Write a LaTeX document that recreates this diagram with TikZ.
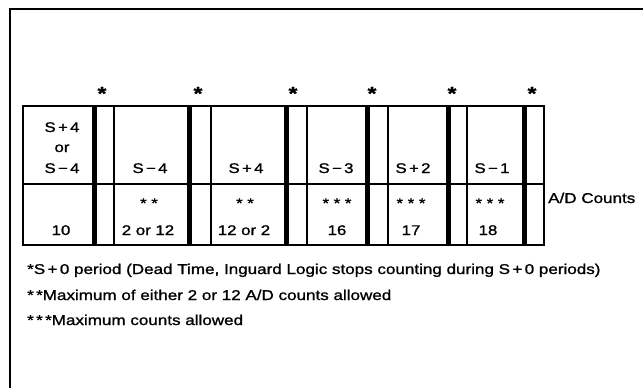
\documentclass[tikz,border=0pt]{standalone}
\usepackage{fontspec}
\setmainfont{Liberation Sans}[FakeStretch=1.2,FakeBold=1.2]
\begin{document}
\begin{tikzpicture}[x=1pt,y=-1pt,
  thickbar/.style={line width=5pt},
  thinbar/.style={line width=2pt},
  frameline/.style={line width=2pt},
  tabline/.style={line width=1.6pt},
  celltext/.style={anchor=base,inner sep=0pt,font=\fontsize{14}{16}\selectfont},
  notetext/.style={anchor=base west,inner sep=0pt,font=\fontsize{14.2}{16}\selectfont},
  starmark/.style={anchor=base,inner sep=0pt,font=\fontsize{19}{20}\selectfont\bfseries}]
\useasboundingbox (0,0) rectangle (643,388);
% outer frame (top and left only)
\draw[frameline] (10,388) -- (10,9) -- (643,9);
% table
\draw[tabline] (23,106) rectangle (544,245);
\draw[tabline] (23,184) -- (544,184);
\foreach \x in {94,189.5,286,367,448,524} \draw[thickbar] (\x,106) -- (\x,245);
\foreach \x in {114,211,307,388,467} \draw[thinbar] (\x,106) -- (\x,245);
% asterisks over the S+0 periods
\foreach \x/\n in {102/a,198/b,293/c,372/d,452/e,532/f}
  \node[starmark] (star\n) at (\x,100) {*};
% upper row
\node[celltext] (c1a) at (62,132) {S\,+\,4};
\node[celltext] (c1b) at (62,152) {or};
\node[celltext] (c1c) at (62,173) {S\,−\,4};
\node[celltext] (c2) at (150,173) {S\,−\,4};
\node[celltext] (c3) at (246,173) {S\,+\,4};
\node[celltext] (c4) at (336,173) {S\,−\,3};
\node[celltext] (c5) at (413,173) {S\,+\,2};
\node[celltext] (c6) at (492,173) {S\,−\,1};
% lower row
\node[celltext] (d2s) at (149,208) {* *};
\node[celltext] (d3s) at (245,208) {* *};
\node[celltext] (d4s) at (337,208) {* * *};
\node[celltext] (d5s) at (411,208) {* * *};
\node[celltext] (d6s) at (490,208) {* * *};
\node[celltext] (d1) at (61,235) {10};
\node[celltext] (d2) at (148,235) {2 or 12};
\node[celltext] (d3) at (244,235) {12 or 2};
\node[celltext] (d4) at (337,235) {16};
\node[celltext] (d5) at (411,235) {17};
\node[celltext] (d6) at (488,235) {18};
\node[notetext] (ad) at (548,203) {A/D Counts};
% footnotes
\node[notetext] (n1) at (27,274) {*S\,+\,0 period (Dead Time, Inguard Logic stops counting during S\,+\,0 periods)};
\node[notetext] (n2) at (27,300) {*\,*Maximum of either 2 or 12 A/D counts allowed};
\node[notetext] (n3) at (27,325) {*\,*\,*Maximum counts allowed};
\end{tikzpicture}
\end{document}
